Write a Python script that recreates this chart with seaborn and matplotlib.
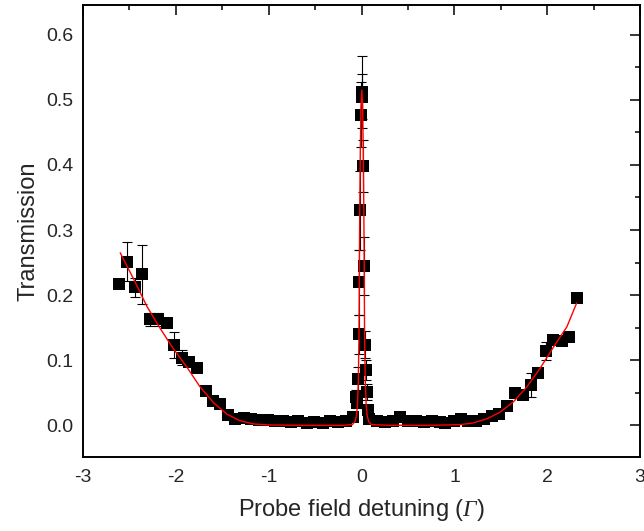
import numpy as np
import pandas as pd
import matplotlib
matplotlib.use('Agg')
import matplotlib.pyplot as plt
from matplotlib.ticker import MultipleLocator, FuncFormatter
import seaborn as sns

# ── Measured transmission (black squares) ────────────────────────────────────
left_x = [-2.61, -2.53, -2.44, -2.36, -2.28, -2.19, -2.10, -2.02, -1.93, -1.86,
          -1.77, -1.68, -1.60, -1.52, -1.44, -1.36, -1.27, -1.19, -1.10, -1.01,
          -0.93, -0.85, -0.76, -0.68, -0.59, -0.51, -0.42, -0.34, -0.25, -0.17, -0.09]
left_y = [0.217, 0.251, 0.212, 0.232, 0.163, 0.163, 0.157, 0.123, 0.104, 0.097,
          0.088, 0.052, 0.037, 0.032, 0.016, 0.010, 0.011, 0.009, 0.008, 0.008,
          0.007, 0.006, 0.005, 0.006, 0.004, 0.005, 0.003, 0.006, 0.005, 0.007, 0.013]
left_err = [0.006, 0.030, 0.015, 0.045, 0.010, 0.010, 0.006, 0.020, 0.012, 0.005,
            0.005, 0.004, 0.004, 0.004, 0.003, 0.003, 0.003, 0.003, 0.003, 0.003,
            0.003, 0.003, 0.003, 0.003, 0.003, 0.003, 0.003, 0.003, 0.003, 0.003, 0.004]

peak_x = [-0.061, -0.050, -0.044, -0.033, -0.026, -0.015, -0.008, 0.000, 0.005,
          0.020, 0.031, 0.039, 0.046, 0.057, 0.064]
peak_y = [0.044, 0.034, 0.071, 0.140, 0.220, 0.330, 0.477, 0.512, 0.505,
          0.398, 0.245, 0.124, 0.085, 0.051, 0.023]
peak_err = [0.010, 0.008, 0.018, 0.030, 0.050, 0.060, 0.050, 0.055, 0.035,
            0.040, 0.045, 0.021, 0.015, 0.012, 0.006]

right_x = [0.08, 0.17, 0.25, 0.34, 0.41, 0.50, 0.59, 0.67, 0.76, 0.84, 0.90, 0.99,
           1.07, 1.15, 1.235, 1.32, 1.40, 1.485, 1.57, 1.653, 1.736, 1.82, 1.905,
           1.987, 2.066, 2.156, 2.238, 2.324]
right_y = [0.010, 0.006, 0.005, 0.006, 0.012, 0.007, 0.006, 0.005, 0.006, 0.005,
           0.004, 0.006, 0.010, 0.007, 0.006, 0.010, 0.014, 0.018, 0.029, 0.049,
           0.046, 0.062, 0.080, 0.114, 0.131, 0.130, 0.136, 0.196]
right_err = [0.003, 0.003, 0.003, 0.003, 0.003, 0.003, 0.003, 0.003, 0.003, 0.003,
             0.003, 0.003, 0.003, 0.003, 0.003, 0.003, 0.004, 0.004, 0.004, 0.005,
             0.005, 0.019, 0.006, 0.014, 0.006, 0.006, 0.006, 0.005]

# ── Fit curve (red line) ────────────────────────────────────────────────────
fit_x = [-2.60, -2.45, -2.31, -2.17, -2.03, -1.88, -1.74, -1.59, -1.45, -1.31,
         -1.16, -1.00, -0.60, -0.20, -0.10, -0.07, -0.055, -0.045, -0.035, -0.028,
         -0.024, -0.020, -0.014, -0.007, 0.002, 0.011, 0.018, 0.024, 0.028, 0.032,
         0.039, 0.050, 0.060, 0.075, 0.105, 0.30, 0.70, 0.92, 1.06, 1.20, 1.35,
         1.49, 1.635, 1.78, 1.92, 2.066, 2.21, 2.317]
fit_y = [0.265, 0.223, 0.182, 0.149, 0.118, 0.089, 0.059, 0.034, 0.017, 0.007,
         0.002, 0.0005, 0.0, 0.0, 0.001, 0.006, 0.015, 0.030, 0.070, 0.140,
         0.250, 0.330, 0.420, 0.490, 0.515, 0.490, 0.420, 0.330, 0.250, 0.140,
         0.070, 0.030, 0.015, 0.006, 0.001, 0.0, 0.0, 0.0005, 0.001, 0.0035, 0.010,
         0.020, 0.036, 0.059, 0.087, 0.120, 0.151, 0.188]

data = pd.DataFrame({
    'x': left_x + peak_x + right_x,
    'y': left_y + peak_y + right_y,
    'err': left_err + peak_err + right_err,
})
fit = pd.DataFrame({'x': fit_x, 'y': fit_y})

sns.set_style('white')
plt.rcParams['font.family'] = ['Liberation Sans', 'DejaVu Sans']
plt.rcParams['mathtext.fontset'] = 'custom'
plt.rcParams['mathtext.rm'] = 'Liberation Sans'
plt.rcParams['mathtext.sf'] = 'Liberation Serif:italic'

fig = plt.figure(figsize=(6.44, 5.31), dpi=100)
ax = fig.add_axes([0.129, 0.139, 0.865, 0.852])

ax.errorbar(data['x'], data['y'], yerr=data['err'], fmt='none',
            ecolor='black', elinewidth=0.8, capsize=3.5, capthick=0.8, zorder=2)
sns.scatterplot(data=data, x='x', y='y', marker='s', s=75, color='black',
                edgecolor='black', linewidth=0, ax=ax, zorder=3)
sns.lineplot(data=fit, x='x', y='y', color='red', linewidth=1.0,
             estimator=None, sort=False, ax=ax, zorder=4)

ax.set_xlim(-3, 3)
ax.set_ylim(-0.049, 0.646)
ax.xaxis.set_major_locator(MultipleLocator(1))
ax.xaxis.set_minor_locator(MultipleLocator(0.5))
ax.yaxis.set_major_locator(MultipleLocator(0.1))
ax.yaxis.set_minor_locator(MultipleLocator(0.05))
ax.xaxis.set_major_formatter(FuncFormatter(lambda v, p: f"{v:.0f}"))
ax.yaxis.set_major_formatter(FuncFormatter(lambda v, p: f"{v:.1f}"))

ax.tick_params(which='both', direction='in', top=True, right=True,
               labeltop=False, labelright=False, color='black', width=1.1)
ax.tick_params(which='major', length=7, labelsize=14)
ax.tick_params(axis='x', which='major', pad=8.5)
ax.tick_params(axis='y', which='major', pad=7)
ax.tick_params(which='minor', length=3.6)
for s in ax.spines.values():
    s.set_color('black')
    s.set_linewidth(1.4)

ax.set_xlabel('Probe field detuning ($\\mathsf{\\Gamma}$)', fontsize=17, labelpad=8)
ax.set_ylabel('Transmission', fontsize=17, labelpad=5)

fig.savefig('out.png', dpi=100)
